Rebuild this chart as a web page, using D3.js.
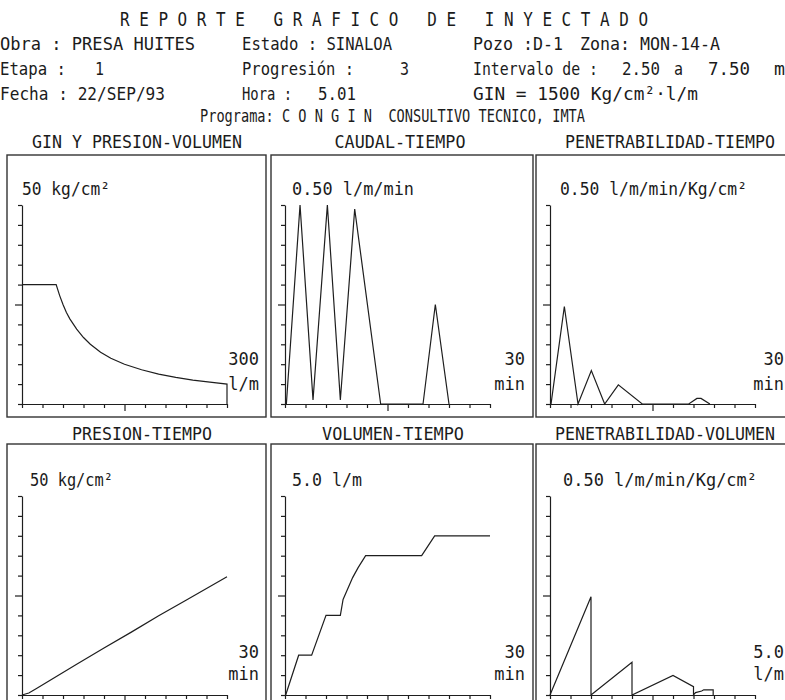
<!DOCTYPE html>
<html>
<head>
<meta charset="utf-8">
<script src="https://cdn.jsdelivr.net/npm/d3@7"></script>
<style>
  body { margin: 0; background: #fff; }
  text { font-family: "DejaVu Sans Mono", monospace; fill: #1b1b1b; white-space: pre; }
</style>
</head>
<body>
<svg id="chart"></svg>
<script>
// ---- data ----
const ginVolumen   = [0, 50, 55, 60, 65, 70, 80, 90, 100, 115, 130, 150, 175, 200, 225, 250, 275, 300, 300];
const ginPresion   = [30, 30, 27.3, 25, 23, 21.4, 18.8, 16.7, 15, 13, 11.5, 10, 8.6, 7.5, 6.7, 6, 5.5, 5, 0];

const caudalTiempo = [0.2, 2.2, 4.1, 6.2, 8.1, 10.2, 14, 20.2, 22, 24];
const caudalValor  = [0, 0.5, 0.01, 0.5, 0.01, 0.49, 0, 0, 0.25, 0];

const penTiempo    = [0.15, 2.1, 4.1, 6.05, 8, 10, 13.5, 20.3, 21.5, 22.1, 23.4];
const penValor     = [0, 0.245, 0, 0.084, 0, 0.048, 0, 0, 0.014, 0.014, 0];

const presTiempo   = [0, 1, 2, 4, 8, 12, 16, 20, 24, 30];
const presValor    = [0, 0.5, 1.5, 3.6, 7.7, 11.8, 15.8, 19.9, 23.8, 29.7];

const volTiempo    = [0.1, 2, 3.9, 6, 8.1, 8.5, 9.9, 10.7, 11.8, 20, 21.9, 30];
const volValor     = [0, 1, 1, 2, 2, 2.4, 2.95, 3.2, 3.5, 3.5, 4, 4];

const penVolumen   = [0, 1, 1, 2, 2, 3, 3.5, 3.5, 3.55, 3.7, 3.75, 3.98, 3.98];
const penVolValor  = [0, 0.247, 0, 0.082, 0, 0.049, 0.021, 0, 0.006, 0.01, 0.013, 0.013, 0];

const panelTitles = ["GIN Y PRESION-VOLUMEN", "CAUDAL-TIEMPO", "PENETRABILIDAD-TIEMPO",
                     "PRESION-TIEMPO", "VOLUMEN-TIEMPO", "PENETRABILIDAD-VOLUMEN"];
const yMax        = [50, 0.5, 0.5, 50, 5, 0.5];
const yMaxLabels  = ["50 kg/cm²", "0.50 l/m/min", "0.50 l/m/min/Kg/cm²",
                     "50 kg/cm²", "5.0 l/m", "0.50 l/m/min/Kg/cm²"];
const xMax        = [300, 30, 30, 30, 30, 5];
const xMaxLabels  = ["300", "30", "30", "30", "30", "5.0"];
const xUnits      = ["l/m", "min", "min", "min", "min", "l/m"];

const seriesX = [ginVolumen, caudalTiempo, penTiempo, presTiempo, volTiempo, penVolumen];
const seriesY = [ginPresion, caudalValor, penValor, presValor, volValor, penVolValor];

// ---- layout ----
const W = 785, H = 700;
const svg = d3.select("#chart").attr("width", W).attr("height", H);
svg.append("rect").attr("width", W).attr("height", H).attr("fill", "#fff");

const ink = "#1e1e1e";

// header lines
const header = [
  { t: "R E P O R T E   G R A F I C O   D E   I N Y E C T A D O", x: 120, y: 26, w: 528, fs: 20 },
  { t: "Obra : PRESA HUITES", x: 0, y: 50, w: 195 },
  { t: "Estado : SINALOA", x: 242, y: 50, w: 150 },
  { t: "Pozo :D-1", x: 473, y: 50, w: 90 },
  { t: "Zona: MON-14-A", x: 580, y: 50, w: 140 },
  { t: "Etapa :", x: 0, y: 75, w: 66 },
  { t: "1", x: 95, y: 75, w: 9 },
  { t: "Progresión :", x: 242, y: 75, w: 112 },
  { t: "3", x: 400, y: 75, w: 9 },
  { t: "Intervalo de :", x: 473, y: 75, w: 125 },
  { t: "2.50", x: 622, y: 75, w: 38 },
  { t: "a", x: 674, y: 75, w: 9 },
  { t: "7.50", x: 708, y: 75, w: 42 },
  { t: "m", x: 774, y: 75, w: 11 },
  { t: "Fecha : 22/SEP/93", x: 0, y: 100, w: 165 },
  { t: "Hora :", x: 242, y: 100, w: 50 },
  { t: "5.01", x: 318, y: 100, w: 38 },
  { t: "GIN = 1500 Kg/cm²·l/m", x: 473, y: 100, w: 225 },
  { t: "Programa: C O N G I N  CONSULTIVO TECNICO, IMTA", x: 200, y: 122, w: 385 }
];

svg.selectAll("text.hdr").data(header).enter().append("text")
  .attr("class", "hdr")
  .attr("x", d => d.x).attr("y", d => d.y)
  .attr("font-size", d => d.fs || 18)
  .attr("textLength", d => d.w)
  .attr("lengthAdjust", "spacingAndGlyphs")
  .text(d => d.t);

// panel geometry
const boxX      = [7, 271, 536];
const boxW      = [259, 262, 270];
const axisX0    = [22, 285, 550];
const axisW     = 205;
const boxTop    = [155, 444];
const boxBottom = [417, 712];
const axisBase  = [404, 695];
const axisH     = 199;
const titleY    = [148, 440];
const titleCx   = [[137, 400, 670], [142, 393, 665]];
const titleW    = [[210, 131, 210], [140, 142, 220]];
const yLabX     = [[22, 292, 560], [30, 292, 563]];
const yLabW     = [[88, 122, 187], [83, 70, 194]];
const endLabY   = [[365, 390], [658, 680]];
const endLabR   = [259, 525, 784];

for (let p = 0; p < 6; p++) {
  const row = Math.floor(p / 3), col = p % 3;
  const g = svg.append("g");

  g.append("rect")
    .attr("x", boxX[col]).attr("y", boxTop[row])
    .attr("width", boxW[col]).attr("height", boxBottom[row] - boxTop[row])
    .attr("fill", "none").attr("stroke", "#333").attr("stroke-width", 1.4);

  g.append("text")
    .attr("x", titleCx[row][col] - titleW[row][col] / 2).attr("y", titleY[row])
    .attr("font-size", 17)
    .attr("textLength", titleW[row][col]).attr("lengthAdjust", "spacingAndGlyphs")
    .text(panelTitles[p]);

  const x = d3.scaleLinear().domain([0, xMax[p]]).range([axisX0[col], axisX0[col] + axisW]);
  const y = d3.scaleLinear().domain([0, yMax[p]]).range([axisBase[row], axisBase[row] - axisH]);

  const xTicks = d3.range(0, 11).map(i => i * xMax[p] / 10);
  const yTicks = d3.range(0, 11).map(i => i * yMax[p] / 10);

  const gx = g.append("g").attr("transform", `translate(0,${axisBase[row]})`)
    .call(d3.axisBottom(x).tickValues(xTicks).tickSize(4).tickSizeOuter(0).tickFormat(""));
  gx.selectAll(".tick line").attr("y2", (d, i) => i === 5 ? 7 : 4);

  const gy = g.append("g").attr("transform", `translate(${axisX0[col]},0)`)
    .call(d3.axisLeft(y).tickValues(yTicks).tickSize(4).tickSizeOuter(0).tickFormat(""));
  gy.selectAll(".tick line").attr("x2", (d, i) => i === 5 ? -7 : -4);

  g.selectAll(".domain, .tick line").attr("stroke", ink).attr("stroke-width", 1.2);

  g.append("text")
    .attr("x", yLabX[row][col]).attr("y", axisBase[row] - axisH - 10)
    .attr("font-size", 17)
    .attr("textLength", yLabW[row][col]).attr("lengthAdjust", "spacingAndGlyphs")
    .text(yMaxLabels[p]);

  g.append("text")
    .attr("x", endLabR[col]).attr("y", endLabY[row][0])
    .attr("text-anchor", "end").attr("font-size", 17)
    .text(xMaxLabels[p]);
  g.append("text")
    .attr("x", endLabR[col]).attr("y", endLabY[row][1])
    .attr("text-anchor", "end").attr("font-size", 17)
    .text(xUnits[p]);

  const pts = seriesX[p].map((v, i) => [v, seriesY[p][i]]);
  g.append("path")
    .datum(pts)
    .attr("d", d3.line().x(d => x(d[0])).y(d => y(d[1])))
    .attr("fill", "none").attr("stroke", ink).attr("stroke-width", 1.2)
    .attr("stroke-linejoin", "miter");
}
</script>
</body>
</html>
